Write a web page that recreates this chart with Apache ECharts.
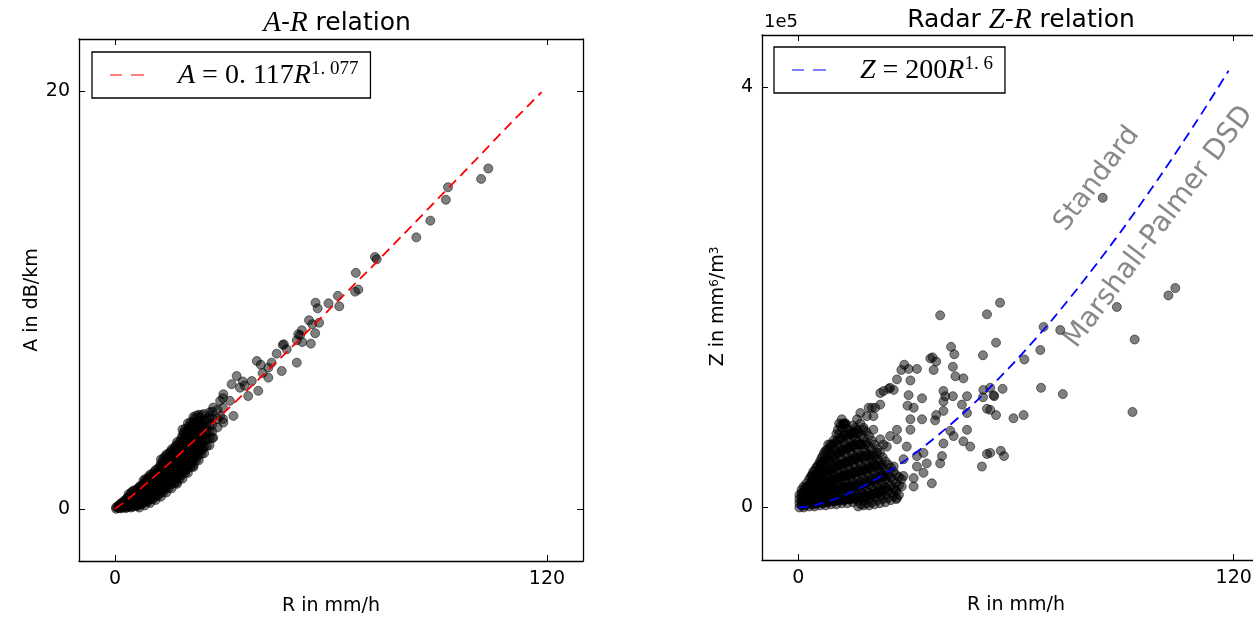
<!DOCTYPE html>
<html>
<head>
<meta charset="utf-8">
<script src="https://cdn.jsdelivr.net/npm/echarts@6/dist/echarts.min.js"></script>
<style>
  html, body { margin: 0; padding: 0; background: #fff; }
  #main { width: 1253px; height: 620px; }
</style>
</head>
<body>
<div id="main"></div>
<script>
// A-R scatter: [R in mm/h, A in dB/km]
var arPoints = [
	[0.3, 0], [0.3, 0.08],
	[0.9, 0.04], [0.9, 0.14],
	[1.5, 0.02], [1.5, 0.12], [1.5, 0.25],
	[2.25, 0.07], [2.25, 0.2], [2.25, 0.33],
	[3, 0.03], [3, 0.16], [3, 0.3], [3, 0.45],
	[3.75, 0.1], [3.75, 0.24], [3.75, 0.4], [3.75, 0.56], [3.75, 0.7],
	[4.5, 0.06], [4.5, 0.22], [4.5, 0.4], [4.5, 0.58], [4.5, 0.78],
	[5.25, 0.15], [5.25, 0.32], [5.25, 0.5], [5.25, 0.68], [5.25, 0.88],
	[6, 0.12], [6, 0.3], [6, 0.5], [6, 0.7], [6, 0.92],
	[6.75, 0.06], [6.75, 0.24], [6.75, 0.44], [6.75, 0.64], [6.75, 0.86], [6.75, 1.06],
	[7.5, 0.22], [7.5, 0.42], [7.5, 0.62], [7.5, 0.84], [7.5, 1.08],
	[8.25, 0.16], [8.25, 0.36], [8.25, 0.58], [8.25, 0.8], [8.25, 1.02], [8.25, 1.24], [8.25, 1.42],
	[9, 0.32], [9, 0.54], [9, 0.76], [9, 1.0], [9, 1.24], [9, 1.46],
	[9.75, 0.28], [9.75, 0.5], [9.75, 0.72], [9.75, 0.96], [9.75, 1.2], [9.75, 1.44], [9.75, 1.64],
	[10.5, 0.46], [10.5, 0.7], [10.5, 0.94], [10.5, 1.18], [10.5, 1.42], [10.5, 1.68],
	[11.25, 0.42], [11.25, 0.66], [11.25, 0.9], [11.25, 1.14], [11.25, 1.38], [11.25, 1.62], [11.25, 1.86],
	[12, 0.62], [12, 0.88], [12, 1.12], [12, 1.38], [12, 1.64], [12, 1.92],
	[12.75, 0.58], [12.75, 0.84], [12.75, 1.1], [12.75, 1.36], [12.75, 1.62], [12.75, 1.88], [12.75, 2.14], [12.75, 2.36],
	[13.5, 0.8], [13.5, 1.06], [13.5, 1.32], [13.5, 1.58], [13.5, 1.84], [13.5, 2.12], [13.5, 2.42],
	[14.25, 0.78], [14.25, 1.04], [14.25, 1.3], [14.25, 1.56], [14.25, 1.82], [14.25, 2.08], [14.25, 2.36], [14.25, 2.6],
	[15, 1.0], [15, 1.28], [15, 1.55], [15, 1.82], [15, 2.08], [15, 2.36], [15, 2.66],
	[15.75, 0.98], [15.75, 1.26], [15.75, 1.54], [15.75, 1.8], [15.75, 2.06], [15.75, 2.34], [15.75, 2.62], [15.75, 2.86],
	[16.5, 1.22], [16.5, 1.5], [16.5, 1.78], [16.5, 2.06], [16.5, 2.34], [16.5, 2.62], [16.5, 2.92],
	[17.25, 1.2], [17.25, 1.48], [17.25, 1.76], [17.25, 2.06], [17.25, 2.34], [17.25, 2.62], [17.25, 2.92], [17.25, 3.2],
	[18, 1.46], [18, 1.76], [18, 2.06], [18, 2.34], [18, 2.62], [18, 2.92], [18, 3.22],
	[18.75, 1.44], [18.75, 1.74], [18.75, 2.04], [18.75, 2.34], [18.75, 2.64], [18.75, 2.94], [18.75, 3.24], [18.75, 3.54], [18.75, 3.8],
	[19.5, 1.72], [19.5, 2.02], [19.5, 2.32], [19.5, 2.62], [19.5, 2.92], [19.5, 3.22], [19.5, 3.52], [19.5, 3.82],
	[20.25, 1.72], [20.25, 2.02], [20.25, 2.32], [20.25, 2.62], [20.25, 2.92], [20.25, 3.22], [20.25, 3.52], [20.25, 3.84], [20.25, 4.1],
	[21, 2.0], [21, 2.32], [21, 2.62], [21, 2.92], [21, 3.22], [21, 3.52], [21, 3.84], [21, 4.14],
	[21.75, 2.0], [21.75, 2.3], [21.75, 2.62], [21.75, 2.94], [21.75, 3.24], [21.75, 3.54], [21.75, 3.86], [21.75, 4.16], [21.75, 4.4],
	[22.5, 2.3], [22.5, 2.62], [22.5, 2.94], [22.5, 3.24], [22.5, 3.54], [22.5, 3.86], [22.5, 4.18], [22.5, 4.46],
	[23.25, 2.32], [23.25, 2.62], [23.25, 2.94], [23.25, 3.26], [23.25, 3.56], [23.25, 3.88], [23.25, 4.2], [23.25, 4.5],
	[24, 2.62], [24, 2.96], [24, 3.28], [24, 3.58], [24, 3.9], [24, 4.22], [24, 4.5],
	[24.75, 2.66], [24.75, 2.96], [24.75, 3.28], [24.75, 3.6], [24.75, 3.92], [24.75, 4.24], [24.75, 4.54],
	[25.5, 3.0], [25.5, 3.32], [25.5, 3.62], [25.5, 3.94], [25.5, 4.26],
	[26.25, 3.04], [26.25, 3.36], [26.25, 3.68], [26.25, 4.0], [26.25, 4.32], [26.25, 4.62],
	[27, 3.38], [27, 3.7], [27, 4.02], [27, 4.34], [27, 4.66],
	[28.5, 3.9], [28.5, 4.3], [28.5, 4.74],
	[30, 4.3], [30, 4.84], [30, 5.3],
	[31.9, 5.17], [32.9, 4.45], [27.3, 4.85], [26.4, 4.45], [29.2, 4.45], [30.1, 4.13],
	[27.3, 3.41], [25.5, 3.73], [21.8, 2.62], [21.8, 2.06], [19.4, 1.82], [17.1, 1.26],
	[33.8, 6.36], [32.4, 5.97], [34.7, 5.8], [30.1, 5.49], [29.2, 5.17], [37, 5.4],
	[39.8, 5.65], [38, 6.12], [42.6, 6.28], [42.6, 6.76], [39.4, 7.08], [44.9, 7.43],
	[46.6, 7.85], [47.7, 7.64], [46.3, 6.6], [50.5, 7.0], [50.9, 8.36], [36, 5.9],
	[35.5, 6.1], [41, 6.5], [40.5, 6.9], [43.5, 7.0],
	[103.7, 16.3], [101.7, 15.8], [92.5, 15.4], [91.9, 14.8], [87.6, 13.8], [83.7, 13.0],
	[72.2, 12.06], [72.7, 11.95], [66.9, 11.3], [66.7, 10.4], [67.6, 10.5], [61.9, 10.2],
	[62.3, 9.7], [59.3, 9.84], [55.7, 9.87], [56.3, 9.6], [53.9, 9.03], [56.7, 8.91],
	[54.8, 8.84], [51.9, 8.55], [55.6, 8.41], [51.4, 8.31], [50.5, 8.07], [54.4, 7.91],
	[46.9, 7.88], [52, 7.99]
];

// the solid black core of the A-R cloud
var arCore = [
	[1.1, 0.06], [1.1, 0.16],
	[1.9, 0.05], [1.9, 0.17], [1.9, 0.28],
	[2.6, 0.1], [2.6, 0.24], [2.6, 0.38],
	[3.4, 0.08], [3.4, 0.23], [3.4, 0.38], [3.4, 0.52],
	[4.1, 0.13], [4.1, 0.3], [4.1, 0.47], [4.1, 0.64],
	[4.9, 0.1], [4.9, 0.28], [4.9, 0.47], [4.9, 0.66], [4.9, 0.84],
	[5.6, 0.2], [5.6, 0.39], [5.6, 0.58], [5.6, 0.78],
	[6.4, 0.16], [6.4, 0.36], [6.4, 0.56], [6.4, 0.76], [6.4, 0.98],
	[7.1, 0.26], [7.1, 0.47], [7.1, 0.68], [7.1, 0.9], [7.1, 1.1],
	[7.9, 0.3], [7.9, 0.5], [7.9, 0.72], [7.9, 0.94], [7.9, 1.16], [7.9, 1.34],
	[8.6, 0.4], [8.6, 0.62], [8.6, 0.84], [8.6, 1.06], [8.6, 1.3],
	[9.4, 0.42], [9.4, 0.64], [9.4, 0.88], [9.4, 1.12], [9.4, 1.36], [9.4, 1.54],
	[10.1, 0.54], [10.1, 0.78], [10.1, 1.02], [10.1, 1.26], [10.1, 1.5],
	[10.9, 0.56], [10.9, 0.8], [10.9, 1.04], [10.9, 1.28], [10.9, 1.52], [10.9, 1.76],
	[11.6, 0.72], [11.6, 0.96], [11.6, 1.22], [11.6, 1.48], [11.6, 1.74],
	[12.4, 0.74], [12.4, 1.0], [12.4, 1.26], [12.4, 1.52], [12.4, 1.78], [12.4, 2.04],
	[13.1, 0.92], [13.1, 1.18], [13.1, 1.44], [13.1, 1.7], [13.1, 1.98], [13.1, 2.26],
	[13.9, 0.94], [13.9, 1.2], [13.9, 1.46], [13.9, 1.72], [13.9, 1.98], [13.9, 2.26], [13.9, 2.5],
	[14.6, 1.12], [14.6, 1.4], [14.6, 1.68], [14.6, 1.94], [14.6, 2.2], [14.6, 2.48],
	[15.4, 1.16], [15.4, 1.42], [15.4, 1.68], [15.4, 1.94], [15.4, 2.2], [15.4, 2.48], [15.4, 2.74],
	[16.1, 1.34], [16.1, 1.62], [16.1, 1.9], [16.1, 2.18], [16.1, 2.46], [16.1, 2.76],
	[16.9, 1.36], [16.9, 1.64], [16.9, 1.92], [16.9, 2.2], [16.9, 2.48], [16.9, 2.76], [16.9, 3.04],
	[17.6, 1.58], [17.6, 1.88], [17.6, 2.18], [17.6, 2.46], [17.6, 2.76], [17.6, 3.06],
	[18.4, 1.6], [18.4, 1.9], [18.4, 2.2], [18.4, 2.5], [18.4, 2.78], [18.4, 3.08], [18.4, 3.38],
	[19.1, 1.84], [19.1, 2.14], [19.1, 2.44], [19.1, 2.76], [19.1, 3.06], [19.1, 3.36], [19.1, 3.66],
	[19.9, 1.88], [19.9, 2.18], [19.9, 2.48], [19.9, 2.78], [19.9, 3.08], [19.9, 3.38], [19.9, 3.7],
	[20.6, 2.14], [20.6, 2.46], [20.6, 2.76], [20.6, 3.06], [20.6, 3.38], [20.6, 3.7], [20.6, 3.98],
	[21.4, 2.16], [21.4, 2.48], [21.4, 2.78], [21.4, 3.1], [21.4, 3.4], [21.4, 3.72], [21.4, 4.02],
	[22.1, 2.46], [22.1, 2.78], [22.1, 3.1], [22.1, 3.4], [22.1, 3.72], [22.1, 4.04], [22.1, 4.3],
	[22.9, 2.5], [22.9, 2.82], [22.9, 3.14], [22.9, 3.46], [22.9, 3.78], [22.9, 4.1],
	[23.6, 2.8], [23.6, 3.12], [23.6, 3.44], [23.6, 3.76], [23.6, 4.08], [23.6, 4.38],
	[24.4, 2.84], [24.4, 3.16], [24.4, 3.48], [24.4, 3.8], [24.4, 4.12]
];

// fitted curve A = 0.117 R^1.077
var arLineR = [0, 2.5, 5, 10, 15, 20, 30, 40, 50, 60, 70, 80, 90, 100, 110, 118.5];
var arLineA = [0, 0.31, 0.66, 1.40, 2.16, 2.95, 4.56, 6.22, 7.9, 9.63, 11.35, 13.12, 14.9, 16.68, 18.48, 19.95];

// Z-R scatter: [R in mm/h, Z in 1e5 mm^6/m^3]
var zrPoints = [
	[0.3, 0], [0.3, 0.04], [0.3, 0.08], [0.3, 0.12],
	[0.9, 0.02], [0.9, 0.06], [0.9, 0.1], [0.9, 0.14], [0.9, 0.17],
	[1.5, 0], [1.5, 0.05], [1.5, 0.1], [1.5, 0.15], [1.5, 0.2],
	[2.25, 0.03], [2.25, 0.08], [2.25, 0.13], [2.25, 0.18], [2.25, 0.23],
	[3, 0.01], [3, 0.06], [3, 0.11], [3, 0.16], [3, 0.21], [3, 0.27],
	[3.75, 0.03], [3.75, 0.08], [3.75, 0.14], [3.75, 0.19], [3.75, 0.25], [3.75, 0.31],
	[4.5, 0.01], [4.5, 0.06], [4.5, 0.11], [4.5, 0.17], [4.5, 0.23], [4.5, 0.29], [4.5, 0.35],
	[5.25, 0.04], [5.25, 0.09], [5.25, 0.15], [5.25, 0.2], [5.25, 0.26], [5.25, 0.33], [5.25, 0.39],
	[6, 0.02], [6, 0.07], [6, 0.12], [6, 0.18], [6, 0.24], [6, 0.3], [6, 0.37], [6, 0.44],
	[6.75, 0.04], [6.75, 0.1], [6.75, 0.15], [6.75, 0.21], [6.75, 0.28], [6.75, 0.35], [6.75, 0.42], [6.75, 0.49],
	[7.5, 0.02], [7.5, 0.07], [7.5, 0.13], [7.5, 0.19], [7.5, 0.25], [7.5, 0.32], [7.5, 0.39], [7.5, 0.47], [7.5, 0.54],
	[8.25, 0.05], [8.25, 0.11], [8.25, 0.17], [8.25, 0.23], [8.25, 0.3], [8.25, 0.37], [8.25, 0.45], [8.25, 0.53], [8.25, 0.6],
	[9, 0.03], [9, 0.08], [9, 0.14], [9, 0.2], [9, 0.27], [9, 0.34], [9, 0.41], [9, 0.49], [9, 0.58],
	[9.75, 0.06], [9.75, 0.12], [9.75, 0.18], [9.75, 0.25], [9.75, 0.32], [9.75, 0.39], [9.75, 0.47], [9.75, 0.56], [9.75, 0.64],
	[10.5, 0.03], [10.5, 0.09], [10.5, 0.15], [10.5, 0.21], [10.5, 0.28], [10.5, 0.35], [10.5, 0.43], [10.5, 0.52], [10.5, 0.61], [10.5, 0.7],
	[11.25, 0.07], [11.25, 0.13], [11.25, 0.2], [11.25, 0.27], [11.25, 0.34], [11.25, 0.42], [11.25, 0.51], [11.25, 0.6], [11.25, 0.7], [11.25, 0.8],
	[12, 0.04], [12, 0.1], [12, 0.16], [12, 0.23], [12, 0.3], [12, 0.38], [12, 0.46], [12, 0.55], [12, 0.65], [12, 0.76], [12, 0.84],
	[12.75, 0.07], [12.75, 0.13], [12.75, 0.2], [12.75, 0.27], [12.75, 0.35], [12.75, 0.43], [12.75, 0.52], [12.75, 0.61], [12.75, 0.7], [12.75, 0.8],
	[13.5, 0.04], [13.5, 0.1], [13.5, 0.17], [13.5, 0.24], [13.5, 0.31], [13.5, 0.39], [13.5, 0.48], [13.5, 0.57], [13.5, 0.66], [13.5, 0.75],
	[14.25, 0.08], [14.25, 0.14], [14.25, 0.21], [14.25, 0.29], [14.25, 0.37], [14.25, 0.45], [14.25, 0.54], [14.25, 0.63], [14.25, 0.73],
	[15, 0.05], [15, 0.11], [15, 0.18], [15, 0.25], [15, 0.33], [15, 0.41], [15, 0.5], [15, 0.59], [15, 0.68], [15, 0.78],
	[15.75, 0.08], [15.75, 0.15], [15.75, 0.22], [15.75, 0.3], [15.75, 0.39], [15.75, 0.48], [15.75, 0.57], [15.75, 0.66], [15.75, 0.76],
	[16.5, 0.01], [16.5, 0.06], [16.5, 0.12], [16.5, 0.19], [16.5, 0.27], [16.5, 0.35], [16.5, 0.44], [16.5, 0.53], [16.5, 0.62], [16.5, 0.72],
	[17.25, 0.03], [17.25, 0.09], [17.25, 0.16], [17.25, 0.24], [17.25, 0.32], [17.25, 0.41], [17.25, 0.5], [17.25, 0.6], [17.25, 0.69],
	[18, 0.02], [18, 0.07], [18, 0.13], [18, 0.2], [18, 0.28], [18, 0.37], [18, 0.46], [18, 0.56], [18, 0.66], [18, 0.76],
	[18.75, 0.04], [18.75, 0.1], [18.75, 0.17], [18.75, 0.25], [18.75, 0.33], [18.75, 0.42], [18.75, 0.52], [18.75, 0.62], [18.75, 0.72],
	[19.5, 0.02], [19.5, 0.08], [19.5, 0.14], [19.5, 0.22], [19.5, 0.3], [19.5, 0.39], [19.5, 0.48], [19.5, 0.58], [19.5, 0.68],
	[20.25, 0.05], [20.25, 0.12], [20.25, 0.2], [20.25, 0.28], [20.25, 0.36], [20.25, 0.45], [20.25, 0.55], [20.25, 0.64],
	[21, 0.03], [21, 0.1], [21, 0.16], [21, 0.24], [21, 0.32], [21, 0.41], [21, 0.5], [21, 0.6],
	[21.75, 0.07], [21.75, 0.13], [21.75, 0.21], [21.75, 0.29], [21.75, 0.37], [21.75, 0.46], [21.75, 0.56],
	[22.5, 0.04], [22.5, 0.11], [22.5, 0.18], [22.5, 0.26], [22.5, 0.34], [22.5, 0.43], [22.5, 0.52],
	[23.25, 0.08], [23.25, 0.15], [23.25, 0.22], [23.25, 0.31], [23.25, 0.4], [23.25, 0.48],
	[24, 0.05], [24, 0.12], [24, 0.19], [24, 0.27], [24, 0.35], [24, 0.44],
	[24.75, 0.09], [24.75, 0.16], [24.75, 0.24], [24.75, 0.32], [24.75, 0.41],
	[25.5, 0.07], [25.5, 0.14], [25.5, 0.21], [25.5, 0.29], [25.5, 0.38],
	[26.25, 0.11], [26.25, 0.18], [26.25, 0.26], [26.25, 0.34],
	[27, 0.08], [27, 0.15], [27, 0.23], [27, 0.31],
	[27.75, 0.12], [27.75, 0.21], [27.75, 0.29],
	[28.5, 0.2], [28.5, 0.27],
	[83.9, 2.95], [103.9, 2.09], [102, 2.02], [87.8, 1.91], [92.7, 1.6], [72.2, 1.69],
	[67.6, 1.72], [66.7, 1.5], [62.3, 1.41], [55.6, 1.95], [52, 1.84], [39.1, 1.83],
	[54.5, 1.57], [50.9, 1.45], [42.1, 1.53], [43, 1.46], [37, 1.43], [38, 1.39],
	[42.6, 1.34], [29.2, 1.36], [32.7, 1.32], [37.3, 1.31], [56.3, 1.13], [54, 1.06],
	[66.9, 1.14], [72.9, 1.08], [54.5, 0.88], [59.3, 0.85], [62.1, 0.88], [92.1, 0.91],
	[55.8, 0.54], [56.7, 0.49], [52.9, 0.52], [52.9, 0.93], [52.9, 1.14], [36.4, 1.42],
	[28.4, 1.31], [30.4, 1.32], [43.3, 1.25], [45.5, 1.23], [27.2, 1.22], [30.9, 1.21],
	[25.3, 1.14], [23.5, 1.11], [26.3, 1.12], [30.4, 1.07], [34.1, 1.04], [40, 1.11],
	[40.5, 1.06], [42.6, 1.06], [50.9, 1.05], [53.8, 1.07], [46.5, 1.06], [51, 1.12],
	[30.1, 0.97], [31.8, 0.95], [40, 1.01], [45.1, 0.98], [46.5, 0.9], [52, 0.94],
	[38, 0.88], [40, 0.92], [37.7, 0.83], [34.1, 0.84], [30.9, 0.84], [27.2, 0.74],
	[30.9, 0.74], [41.9, 0.73], [42.8, 0.68], [46.5, 0.74], [45.5, 0.63], [47.4, 0.58],
	[40, 0.61], [39.6, 0.49], [39.1, 0.42], [50.6, 0.39], [52, 0.51], [34.5, 0.52],
	[32.7, 0.49], [36.8, 0.23], [27.2, 0.09], [31.8, 0.28], [34.5, 0.33], [26.3, 0.39],
	[24.4, 0.58], [22.6, 0.65], [21.7, 0.52], [18, 0.74], [17.1, 0.9], [18.9, 0.87],
	[20.3, 0.95], [21.2, 0.95], [22.6, 0.98], [20.7, 0.87], [17.1, 0.8], [16.2, 0.74],
	[12.9, 0.79], [15.2, 0.71], [8.8, 0.6], [6.1, 0.42], [3.8, 0.3], [12.5, 0.79],
	[16.2, 0.84], [19.4, 0.95], [22.6, 1.09], [24.9, 1.13], [20.7, 0.74], [23.5, 0.6],
	[25.3, 0.68], [27.2, 0.65], [29, 0.46], [29.9, 0.58], [32.7, 0.39], [35.4, 0.42],
	[31.8, 0.2], [29, 0.3], [26.7, 0.17]
];

// the solid black core of the Z-R cloud
var zrCore = [
	[1.1, 0.03], [1.1, 0.12],
	[1.9, 0.02], [1.9, 0.1], [1.9, 0.19],
	[2.6, 0.04], [2.6, 0.12], [2.6, 0.2],
	[3.4, 0.04], [3.4, 0.13], [3.4, 0.22], [3.4, 0.29],
	[4.1, 0.03], [4.1, 0.12], [4.1, 0.2], [4.1, 0.28], [4.1, 0.34],
	[4.9, 0.04], [4.9, 0.13], [4.9, 0.22], [4.9, 0.31], [4.9, 0.38],
	[5.6, 0.05], [5.6, 0.14], [5.6, 0.23], [5.6, 0.32], [5.6, 0.41],
	[6.4, 0.05], [6.4, 0.14], [6.4, 0.23], [6.4, 0.33], [6.4, 0.42], [6.4, 0.47],
	[7.1, 0.05], [7.1, 0.15], [7.1, 0.24], [7.1, 0.34], [7.1, 0.44], [7.1, 0.52],
	[7.9, 0.05], [7.9, 0.15], [7.9, 0.25], [7.9, 0.35], [7.9, 0.45], [7.9, 0.55],
	[8.6, 0.06], [8.6, 0.16], [8.6, 0.26], [8.6, 0.36], [8.6, 0.46], [8.6, 0.56],
	[9.4, 0.06], [9.4, 0.16], [9.4, 0.26], [9.4, 0.37], [9.4, 0.48], [9.4, 0.6],
	[10.1, 0.06], [10.1, 0.17], [10.1, 0.27], [10.1, 0.38], [10.1, 0.5], [10.1, 0.62],
	[10.9, 0.07], [10.9, 0.17], [10.9, 0.28], [10.9, 0.4], [10.9, 0.52], [10.9, 0.64], [10.9, 0.74],
	[11.6, 0.07], [11.6, 0.18], [11.6, 0.29], [11.6, 0.41], [11.6, 0.53], [11.6, 0.66], [11.6, 0.78],
	[12.4, 0.07], [12.4, 0.18], [12.4, 0.3], [12.4, 0.42], [12.4, 0.55], [12.4, 0.68], [12.4, 0.8],
	[13.1, 0.08], [13.1, 0.19], [13.1, 0.3], [13.1, 0.43], [13.1, 0.56], [13.1, 0.69], [13.1, 0.8],
	[13.9, 0.08], [13.9, 0.19], [13.9, 0.31], [13.9, 0.44], [13.9, 0.57], [13.9, 0.7],
	[14.6, 0.08], [14.6, 0.2], [14.6, 0.32], [14.6, 0.45], [14.6, 0.58], [14.6, 0.71],
	[15.4, 0.09], [15.4, 0.2], [15.4, 0.33], [15.4, 0.46], [15.4, 0.59], [15.4, 0.72],
	[16.1, 0.09], [16.1, 0.21], [16.1, 0.34], [16.1, 0.47], [16.1, 0.6], [16.1, 0.7],
	[16.9, 0.1], [16.9, 0.22], [16.9, 0.35], [16.9, 0.48], [16.9, 0.6],
	[17.6, 0.1], [17.6, 0.22], [17.6, 0.35], [17.6, 0.48], [17.6, 0.6],
	[18.4, 0.11], [18.4, 0.23], [18.4, 0.36], [18.4, 0.49], [18.4, 0.6],
	[19.1, 0.11], [19.1, 0.24], [19.1, 0.37], [19.1, 0.5],
	[19.9, 0.12], [19.9, 0.25], [19.9, 0.38], [19.9, 0.5],
	[20.6, 0.13], [20.6, 0.26], [20.6, 0.39], [20.6, 0.48],
	[21.4, 0.14], [21.4, 0.27], [21.4, 0.4],
	[22.1, 0.15], [22.1, 0.28], [22.1, 0.4],
	[22.9, 0.16], [22.9, 0.29], [22.9, 0.38],
	[23.6, 0.17], [23.6, 0.3],
	[24.4, 0.18], [24.4, 0.3]
];

// Marshall-Palmer Z = 200 R^1.6 (in 1e5)
var zrLineR = [0, 2.5, 5, 10, 15, 20, 25, 30, 35, 40, 45, 50, 60, 70, 80, 90, 100, 110, 118.6];
var zrLineZ = [0, 0.009, 0.026, 0.08, 0.152, 0.241, 0.345, 0.462, 0.591, 0.732, 0.883, 1.045, 1.40, 1.79, 2.22, 2.68, 3.17, 3.69, 4.16];

var xTicks = [0, 120];
var arTicks = [0, 20];
var zrTicks = [0, 4];

var FONT = 'DejaVu Sans';
var SERIF = 'Liberation Serif';

function zipLine(xs, ys) {
	var out = [];
	for (var i = 0; i < xs.length; i++) {
		out.push([xs[i], ys[i]]);
	}
	return out;
}

function baseAxis(grid, pos, min, max, ticks, showLabel) {
	return {
		type: 'value',
		gridIndex: grid,
		position: pos,
		min: min,
		max: max,
		splitLine: { show: false },
		axisLine: { show: true, onZero: false, lineStyle: { color: '#000', width: 1.3 } },
		axisTick: { show: true, inside: true, length: 6, customValues: ticks, lineStyle: { color: '#000', width: 1 } },
		axisLabel: { show: showLabel, customValues: ticks, color: '#000', fontFamily: FONT, fontSize: 19, margin: 9 }
	};
}

var xAxes = [
	baseAxis(0, 'bottom', -10, 130, xTicks, true),
	baseAxis(0, 'top', -10, 130, xTicks, false),
	baseAxis(1, 'bottom', -10, 130, xTicks, true),
	baseAxis(1, 'top', -10, 130, xTicks, false)
];
xAxes[0].name = 'R in mm/h';
xAxes[2].name = 'R in mm/h';
[0, 2].forEach(function(i) {
	xAxes[i].nameLocation = 'middle';
	xAxes[i].nameGap = 36;
	xAxes[i].nameTextStyle = { color: '#000', fontFamily: FONT, fontSize: 19 };
});

var yAxes = [
	baseAxis(0, 'left', -2.5, 22.5, arTicks, true),
	baseAxis(0, 'right', -2.5, 22.5, arTicks, false),
	baseAxis(1, 'left', -0.5, 4.5, zrTicks, true),
	baseAxis(1, 'right', -0.5, 4.5, zrTicks, false)
];
yAxes[0].name = 'A in dB/km';
yAxes[2].name = 'Z in mm{s|6}/m{s|3}';
[0, 2].forEach(function(i) {
	yAxes[i].nameLocation = 'middle';
	yAxes[i].nameGap = 34;
	yAxes[i].nameRotate = 90;
	yAxes[i].nameTextStyle = {
		color: '#000', fontFamily: FONT, fontSize: 19,
		rich: { s: { fontFamily: FONT, fontSize: 12, verticalAlign: 'top', lineHeight: 12, color: '#000' } }
	};
});
yAxes[2].nameTextStyle.padding = [0, 18, 0, 0];

var mathRich = {
	i: { fontFamily: SERIF, fontStyle: 'italic', fontSize: 28, lineHeight: 30, verticalAlign: 'bottom', color: '#000' },
	r: { fontFamily: SERIF, fontSize: 28, lineHeight: 30, verticalAlign: 'bottom', color: '#000' },
	s: { fontFamily: SERIF, fontSize: 19, lineHeight: 18, verticalAlign: 'top', color: '#000' },
	pad: { width: 29 }
};

function legendBox(name, left, top) {
	return {
		data: [name],
		left: left,
		top: top,
		orient: 'vertical',
		icon: 'path://M0,0H12V1H0Z M21,0H34V1H21Z',
		itemWidth: 34,
		itemHeight: 3,
		padding: [8, 12, 8, 18],
		borderColor: '#000',
		borderWidth: 1.3,
		backgroundColor: '#fff',
		selectedMode: false,
		formatter: function(n) {
			if (n == 'fitA') {
				return '{pad|}{i|A}{r| = 0. 117}{i|R}{s|1. 077}';
			}
			return '{pad|}{i|Z}{r| = 200}{i|R}{s|1. 6}';
		},
		textStyle: { rich: mathRich }
	};
}

var dotStyle = { color: 'rgba(0,0,0,0.5)', borderColor: 'rgba(0,0,0,0.5)', borderWidth: 1, opacity: 1 };

// each cloud goes in as two scatter layers so their overlaps darken
function dots(xi, yi, data) {
	return {
		type: 'scatter',
		xAxisIndex: xi,
		yAxisIndex: yi,
		data: data,
		symbolSize: 9,
		large: false,
		progressive: 0,
		itemStyle: dotStyle,
		z: 2
	};
}

var chart = echarts.init(document.getElementById('main'), null, { renderer: 'canvas' });
chart.setOption({
	animation: false,
	backgroundColor: '#fff',
	title: [{
		text: '{i|A}-{i|R} relation',
		left: 332,
		top: 4,
		textAlign: 'center',
		textStyle: {
			fontFamily: FONT, fontSize: 25, fontWeight: 'normal', color: '#000',
			rich: { i: { fontFamily: SERIF, fontStyle: 'italic', fontSize: 29, color: '#000' } }
		}
	}, {
		text: 'Radar {i|Z}-{i|R} relation',
		left: 1016,
		top: 1,
		textAlign: 'center',
		textStyle: {
			fontFamily: FONT, fontSize: 25, fontWeight: 'normal', color: '#000',
			rich: { i: { fontFamily: SERIF, fontStyle: 'italic', fontSize: 29, color: '#000' } }
		}
	}],
	legend: [legendBox('fitA', 92, 52), legendBox('fitZ', 774, 47)],
	grid: [
		{ left: 79, top: 39, width: 504, height: 522, outerBoundsMode: 'none' },
		{ left: 762, top: 35, width: 508, height: 525, outerBoundsMode: 'none' }
	],
	xAxis: xAxes,
	yAxis: yAxes,
	graphic: [{
		type: 'text',
		left: 764,
		top: 13,
		style: { text: '1e5', fontFamily: FONT, fontSize: 18, fill: '#000' }
	}, {
		type: 'text',
		x: 1097,
		y: 179,
		rotation: 53 * Math.PI / 180,
		style: { text: 'Standard', fontFamily: FONT, fontSize: 27, fill: '#888', align: 'center', verticalAlign: 'middle' }
	}, {
		type: 'text',
		x: 1159,
		y: 227,
		rotation: 53 * Math.PI / 180,
		style: { text: 'Marshall-Palmer DSD', fontFamily: FONT, fontSize: 28, fill: '#888', align: 'center', verticalAlign: 'middle' }
	}],
	series: [
		dots(0, 0, arPoints),
		dots(0, 0, arCore),
		{
			name: 'fitA',
			type: 'line',
			xAxisIndex: 0,
			yAxisIndex: 0,
			data: zipLine(arLineR, arLineA),
			symbol: 'none',
			smooth: 0.3,
			lineStyle: { color: '#ff0000', width: 1.8, type: [10, 6] },
			itemStyle: { color: '#ff0000' },
			z: 3
		},
		dots(2, 2, zrPoints),
		dots(2, 2, zrCore),
		{
			name: 'fitZ',
			type: 'line',
			xAxisIndex: 2,
			yAxisIndex: 2,
			data: zipLine(zrLineR, zrLineZ),
			symbol: 'none',
			smooth: 0.3,
			lineStyle: { color: '#0000ff', width: 1.8, type: [10, 6] },
			itemStyle: { color: '#0000ff' },
			z: 3
		}
	]
});
</script>
</body>
</html>
